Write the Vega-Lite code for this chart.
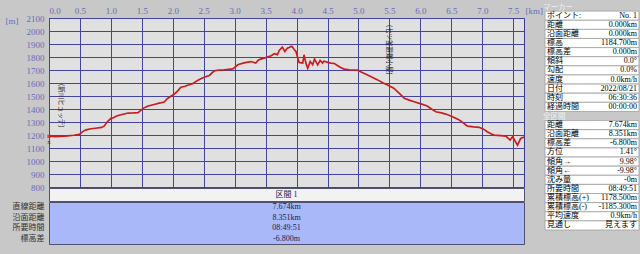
{
  "$schema": "https://vega.github.io/schema/vega-lite/v6.json",
  "background": "#c8c8c8",
  "padding": {"left": 4, "top": 2, "right": 3, "bottom": 10},
  "spacing": 0,
  "config": {
    "font": "Liberation Serif, Noto Sans CJK JP",
    "view": {"stroke": null},
    "axis": {"labelFont": "Liberation Serif, Noto Sans CJK JP", "titleFont": "Liberation Serif, Noto Sans CJK JP"}
  },
  "datasets": {
    "profile": [
      {"d": 0.00, "e": 1192}, {"d": 0.10, "e": 1188}, {"d": 0.20, "e": 1190}, {"d": 0.30, "e": 1194},
      {"d": 0.40, "e": 1198}, {"d": 0.49, "e": 1205}, {"d": 0.55, "e": 1228}, {"d": 0.60, "e": 1240},
      {"d": 0.68, "e": 1248}, {"d": 0.75, "e": 1252}, {"d": 0.85, "e": 1258}, {"d": 0.89, "e": 1268},
      {"d": 0.94, "e": 1300}, {"d": 1.00, "e": 1328}, {"d": 1.05, "e": 1335}, {"d": 1.09, "e": 1346},
      {"d": 1.18, "e": 1358}, {"d": 1.28, "e": 1369}, {"d": 1.36, "e": 1370}, {"d": 1.44, "e": 1372},
      {"d": 1.52, "e": 1405}, {"d": 1.60, "e": 1423}, {"d": 1.70, "e": 1435}, {"d": 1.78, "e": 1445},
      {"d": 1.86, "e": 1454}, {"d": 1.92, "e": 1483}, {"d": 2.02, "e": 1513}, {"d": 2.08, "e": 1540},
      {"d": 2.13, "e": 1568}, {"d": 2.20, "e": 1575}, {"d": 2.24, "e": 1583}, {"d": 2.32, "e": 1595},
      {"d": 2.40, "e": 1620}, {"d": 2.46, "e": 1635}, {"d": 2.53, "e": 1648}, {"d": 2.59, "e": 1658},
      {"d": 2.67, "e": 1693}, {"d": 2.75, "e": 1700}, {"d": 2.83, "e": 1701}, {"d": 2.90, "e": 1705},
      {"d": 2.97, "e": 1708}, {"d": 3.05, "e": 1740}, {"d": 3.15, "e": 1755}, {"d": 3.26, "e": 1765},
      {"d": 3.30, "e": 1760}, {"d": 3.34, "e": 1753}, {"d": 3.38, "e": 1775}, {"d": 3.42, "e": 1784},
      {"d": 3.50, "e": 1795}, {"d": 3.59, "e": 1809}, {"d": 3.64, "e": 1825}, {"d": 3.69, "e": 1818},
      {"d": 3.72, "e": 1850}, {"d": 3.77, "e": 1876}, {"d": 3.81, "e": 1842}, {"d": 3.85, "e": 1868},
      {"d": 3.88, "e": 1873}, {"d": 3.91, "e": 1881}, {"d": 3.93, "e": 1880}, {"d": 3.96, "e": 1858},
      {"d": 3.99, "e": 1842}, {"d": 4.04, "e": 1758}, {"d": 4.10, "e": 1753}, {"d": 4.12, "e": 1817},
      {"d": 4.15, "e": 1753}, {"d": 4.18, "e": 1714}, {"d": 4.22, "e": 1765}, {"d": 4.26, "e": 1740},
      {"d": 4.29, "e": 1784}, {"d": 4.34, "e": 1740}, {"d": 4.38, "e": 1773}, {"d": 4.42, "e": 1753},
      {"d": 4.44, "e": 1768}, {"d": 4.55, "e": 1753}, {"d": 4.61, "e": 1750}, {"d": 4.71, "e": 1719},
      {"d": 4.77, "e": 1707}, {"d": 4.85, "e": 1701}, {"d": 4.98, "e": 1700}, {"d": 5.06, "e": 1680},
      {"d": 5.14, "e": 1663}, {"d": 5.22, "e": 1645}, {"d": 5.31, "e": 1624}, {"d": 5.40, "e": 1600},
      {"d": 5.47, "e": 1585}, {"d": 5.57, "e": 1560}, {"d": 5.66, "e": 1520}, {"d": 5.74, "e": 1483},
      {"d": 5.82, "e": 1468}, {"d": 5.90, "e": 1456}, {"d": 6.01, "e": 1439}, {"d": 6.11, "e": 1423},
      {"d": 6.18, "e": 1400}, {"d": 6.25, "e": 1379}, {"d": 6.34, "e": 1370}, {"d": 6.41, "e": 1361},
      {"d": 6.52, "e": 1340}, {"d": 6.62, "e": 1318}, {"d": 6.70, "e": 1290}, {"d": 6.76, "e": 1268},
      {"d": 6.86, "e": 1262}, {"d": 6.95, "e": 1259}, {"d": 7.02, "e": 1245}, {"d": 7.08, "e": 1225},
      {"d": 7.14, "e": 1210}, {"d": 7.19, "e": 1199}, {"d": 7.30, "e": 1195}, {"d": 7.38, "e": 1191},
      {"d": 7.45, "e": 1161}, {"d": 7.49, "e": 1186}, {"d": 7.57, "e": 1122}, {"d": 7.62, "e": 1174},
      {"d": 7.674, "e": 1184}
    ],
    "places": [
      {"d": 0.2, "e": 1425, "name": "(新川ヒュッテ)"},
      {"d": 5.49, "e": 1855, "name": "(七ツ釜避難小屋)"}
    ],
    "start": [{"d": 0, "e": 1190, "m": "x"}],
    "section": [
      {"k": "直線距離", "v": "7.674km"},
      {"k": "沿面距離", "v": "8.351km"},
      {"k": "所要時間", "v": "08:49:51"},
      {"k": "標高差", "v": "-6.800m"}
    ],
    "panel": [
      {"id": "t1", "kind": "title", "k": "マーカー", "v": ""},
      {"id": "m01", "kind": "row", "k": "ポイント:", "v": "No. 1"},
      {"id": "m02", "kind": "row", "k": "距離", "v": "0.000km"},
      {"id": "m03", "kind": "row", "k": "沿面距離", "v": "0.000km"},
      {"id": "m04", "kind": "row", "k": "標高", "v": "1184.700m"},
      {"id": "m05", "kind": "row", "k": "標高差", "v": "0.000m"},
      {"id": "m06", "kind": "row", "k": "傾斜", "v": "0.0°"},
      {"id": "m07", "kind": "row", "k": "勾配", "v": "0.0%"},
      {"id": "m08", "kind": "row", "k": "速度", "v": "0.0km/h"},
      {"id": "m09", "kind": "row", "k": "日付", "v": "2022/08/21"},
      {"id": "m10", "kind": "row", "k": "時刻", "v": "06:30:36"},
      {"id": "m11", "kind": "row", "k": "経過時間", "v": "00:00:00"},
      {"id": "t2", "kind": "title", "k": "全区間", "v": ""},
      {"id": "w01", "kind": "row", "k": "距離", "v": "7.674km"},
      {"id": "w02", "kind": "row", "k": "沿面距離", "v": "8.351km"},
      {"id": "w03", "kind": "row", "k": "標高差", "v": "-6.800m"},
      {"id": "w04", "kind": "row", "k": "方位", "v": "1.41°"},
      {"id": "w05", "kind": "row", "k": "傾角→", "v": "9.98°"},
      {"id": "w06", "kind": "row", "k": "傾角←", "v": "-9.98°"},
      {"id": "w07", "kind": "row", "k": "沈み量", "v": "-0m"},
      {"id": "w08", "kind": "row", "k": "所要時間", "v": "08:49:51"},
      {"id": "w09", "kind": "row", "k": "累積標高(+)", "v": "1178.500m"},
      {"id": "w10", "kind": "row", "k": "累積標高(-)", "v": "-1185.300m"},
      {"id": "w11", "kind": "row", "k": "平均速度", "v": "0.9km/h"},
      {"id": "w12", "kind": "row", "k": "見通し", "v": "見えます"}
    ]
  },
  "hconcat": [
    {
      "bounds": "flush",
      "spacing": 1,
      "vconcat": [
        {
          "width": 475, "height": 15,
          "view": {"fill": "#c8c8c8"},
          "data": {"values": []},
          "mark": "point",
          "encoding": {}
        },
        {
          "width": 475, "height": 169,
          "view": {"fill": "#e0e0e0", "stroke": "#3a3a8a", "strokeWidth": 1},
          "encoding": {
            "x": {
              "field": "d", "type": "quantitative",
              "scale": {"domain": [0, 7.674], "nice": false, "zero": false},
              "axis": {
                "orient": "top",
                "values": [0, 0.5, 1, 1.5, 2, 2.5, 3, 3.5, 4, 4.5, 5, 5.5, 6, 6.5, 7, 7.5],
                "format": ".1f", "grid": true, "gridColor": "#4444a0", "gridOpacity": 1,
                "ticks": false, "domain": false, "labelFlush": true,
                "labelColor": "#6a6ab8", "labelFontSize": 9, "labelPadding": 3,
                "title": "[km]", "titleX": 476, "titleY": -8, "titleAlign": "left",
                "titleBaseline": "middle", "titleFontSize": 9, "titleFontWeight": "normal",
                "titleColor": "#6a6ab8"
              }
            },
            "y": {
              "field": "e", "type": "quantitative",
              "scale": {"domain": [800, 2100], "nice": false, "zero": false},
              "axis": {
                "values": [800, 900, 1000, 1100, 1200, 1300, 1400, 1500, 1600, 1700, 1800, 1900, 2000, 2100],
                "format": "d",
                "grid": true, "gridColor": "#4444a0", "gridOpacity": 1,
                "ticks": false, "domain": false,
                "labelColor": "#6a6ab8", "labelFontSize": 9, "labelPadding": 5,
                "title": "[m]", "titleAngle": 0, "titleX": -44, "titleY": 2,
                "titleAlign": "left", "titleBaseline": "middle", "titleFontSize": 9,
                "titleFontWeight": "normal", "titleColor": "#6a6ab8"
              }
            }
          },
          "layer": [
            {
              "data": {"name": "profile"},
              "mark": {"type": "line", "color": "#c81e1e", "strokeWidth": 1.7}
            },
            {
              "data": {"name": "places"},
              "mark": {"type": "text", "angle": 90, "fontSize": 6.5, "color": "#222222", "font": "Noto Sans CJK JP"},
              "encoding": {"text": {"field": "name"}}
            },
            {
              "data": {"name": "start"},
              "mark": {"type": "point", "shape": "square", "filled": true, "size": 12, "color": "#d02020"}
            },
            {
              "data": {"name": "start"},
              "mark": {"type": "text", "dy": 6, "fontSize": 7, "color": "#333333"},
              "encoding": {"text": {"field": "m"}}
            }
          ]
        },
        {
          "width": 475, "height": 13,
          "view": {"fill": "#f2f2f2", "stroke": "#505070"},
          "data": {"values": [{"t": "区間 1"}]},
          "mark": {"type": "text", "fontSize": 8, "color": "#202040"},
          "encoding": {"text": {"field": "t"}}
        },
        {
          "width": 475, "height": 42,
          "view": {"fill": "#a8b8f8", "stroke": "#505070"},
          "data": {"name": "section"},
          "mark": {"type": "text", "fontSize": 8, "color": "#202050"},
          "encoding": {
            "y": {
              "field": "k", "type": "nominal", "sort": null,
              "scale": {"type": "band", "paddingInner": 0, "paddingOuter": 0},
              "axis": {"title": null, "ticks": false, "domain": false, "labelPadding": 5,
                       "labelFontSize": 8, "labelColor": "#303030", "labelFont": "Noto Sans CJK JP"}
            },
            "text": {"field": "v"}
          }
        }
      ]
    },
    {
      "width": 94, "height": 228,
      "data": {"name": "panel"},
      "encoding": {
        "y": {
          "field": "id", "type": "nominal",
          "scale": {"type": "band", "paddingInner": 0, "paddingOuter": 0,
                    "domain": ["t1", "m01", "m02", "m03", "m04", "m05", "m06", "m07", "m08", "m09", "m10", "m11",
                               "t2", "w01", "w02", "w03", "w04", "w05", "w06", "w07", "w08", "w09", "w10", "w11", "w12"]},
          "axis": null
        }
      },
      "layer": [
        {
          "transform": [{"filter": "datum.kind === 'row'"}],
          "mark": {"type": "rect", "fill": "#ffffff", "stroke": "#a0a0a0", "strokeWidth": 0.8},
          "encoding": {
            "x": {"datum": 0, "type": "quantitative", "scale": {"domain": [0, 1], "nice": false, "zero": false}, "axis": null},
            "x2": {"datum": 1}
          }
        },
        {
          "transform": [{"filter": "datum.kind === 'title'"}],
          "mark": {"type": "text", "align": "left", "dx": -2, "dy": 1, "fontSize": 7.5, "color": "#f0f0f0", "font": "Noto Sans CJK JP"},
          "encoding": {
            "x": {"datum": 0, "type": "quantitative"},
            "text": {"field": "k"}
          }
        },
        {
          "transform": [{"filter": "datum.kind === 'row'"}],
          "mark": {"type": "text", "align": "left", "dx": 2, "fontSize": 8, "color": "#000000"},
          "encoding": {
            "x": {"datum": 0, "type": "quantitative"},
            "text": {"field": "k"}
          }
        },
        {
          "transform": [{"filter": "datum.kind === 'row'"}],
          "mark": {"type": "text", "align": "right", "dx": -2, "fontSize": 8, "color": "#000000"},
          "encoding": {
            "x": {"datum": 1, "type": "quantitative"},
            "text": {"field": "v"}
          }
        }
      ]
    }
  ]
}
